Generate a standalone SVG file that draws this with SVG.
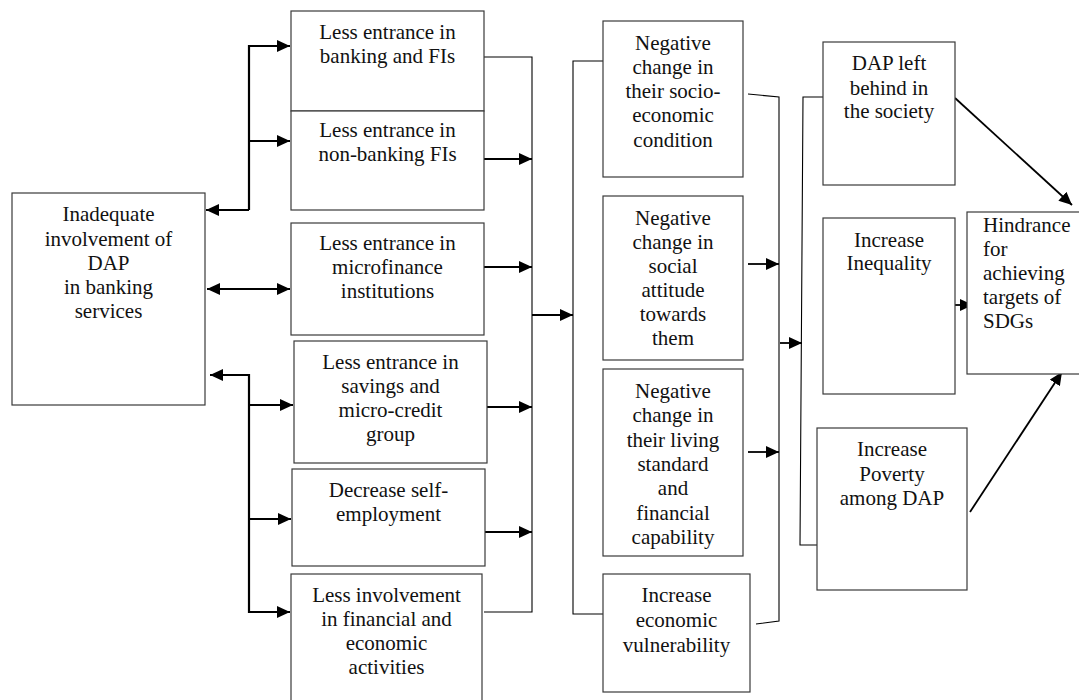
<svg xmlns="http://www.w3.org/2000/svg" width="1079" height="700" viewBox="0 0 1079 700">
<style>
.box{fill:#fff;stroke:#3a3a3a;stroke-width:1.2}
.t{font-family:'Liberation Serif','DejaVu Serif',serif;font-size:21px;fill:#111;text-anchor:middle}
.tl{text-anchor:start}
.thick{fill:none;stroke:#000;stroke-width:2.2}
.mid{fill:none;stroke:#000;stroke-width:1.8}
.thin{fill:none;stroke:#000;stroke-width:1.1}
</style>
<defs>
<marker id="ah" markerUnits="userSpaceOnUse" markerWidth="14" markerHeight="12" refX="13" refY="6" orient="auto">
<path d="M0,0 L13,6 L0,12 z" fill="#000"/>
</marker>
<marker id="ahs" markerUnits="userSpaceOnUse" markerWidth="14" markerHeight="12" refX="0" refY="6" orient="auto">
<path d="M13,0 L0,6 L13,12 z" fill="#000"/>
</marker>
</defs>
<rect width="1079" height="700" fill="#fff"/>

<g id="connectors">
<polyline class="thick" points="249,210 249,46 290,46" marker-end="url(#ah)"/>
<line class="thick" x1="249" y1="210" x2="206" y2="210" marker-end="url(#ah)"/>
<line class="thick" x1="249" y1="141" x2="290" y2="141" marker-end="url(#ah)"/>
<line class="thick" x1="207" y1="289" x2="290" y2="289" marker-start="url(#ahs)" marker-end="url(#ah)"/>
<polyline class="thick" points="210,375 249,375 249,612 290,612" marker-start="url(#ahs)" marker-end="url(#ah)"/>
<line class="thick" x1="249" y1="405" x2="293" y2="405" marker-end="url(#ah)"/>
<line class="thick" x1="249" y1="519" x2="291" y2="519" marker-end="url(#ah)"/>
<polyline class="thin" points="484,57 532,57 532,612 484,612"/>
<line class="mid" x1="483" y1="159" x2="532" y2="159" marker-end="url(#ah)"/>
<line class="mid" x1="483" y1="267" x2="532" y2="267" marker-end="url(#ah)"/>
<line class="mid" x1="487" y1="407" x2="532" y2="407" marker-end="url(#ah)"/>
<line class="mid" x1="485" y1="532" x2="532" y2="532" marker-end="url(#ah)"/>
<line class="mid" x1="532" y1="315" x2="573" y2="315" marker-end="url(#ah)"/>
<polyline class="thin" points="603,61 573,61 573,614 603,614"/>
<polyline class="thin" points="748,94 779,97 779,621 756,624"/>
<line class="mid" x1="748" y1="264" x2="779" y2="264" marker-end="url(#ah)"/>
<line class="mid" x1="748" y1="452" x2="779" y2="452" marker-end="url(#ah)"/>
<line class="mid" x1="780" y1="343" x2="802" y2="343" marker-end="url(#ah)"/>
<polyline class="thin" points="828,97 803,97 800,545 817,545"/>
<line class="mid" x1="955" y1="98" x2="1072" y2="205" marker-end="url(#ah)"/>
<line class="mid" x1="955" y1="305" x2="973" y2="305" marker-end="url(#ah)"/>
<line class="mid" x1="970" y1="512" x2="1062" y2="372" marker-end="url(#ah)"/>
</g>

<g id="n-inadequate">
<rect class="box" x="12" y="193" width="193" height="212"/>
<text class="t" x="108.5" y="221">Inadequate</text>
<text class="t" x="108.5" y="246">involvement of</text>
<text class="t" x="108.5" y="270">DAP</text>
<text class="t" x="108.5" y="294">in banking</text>
<text class="t" x="108.5" y="318">services</text>
</g>

<g id="n-banking">
<rect class="box" x="291" y="11" width="193" height="100"/>
<text class="t" x="387.5" y="39">Less entrance in</text>
<text class="t" x="387.5" y="63">banking and FIs</text>
</g>
<g id="n-nonbanking">
<rect class="box" x="291" y="111" width="193" height="99"/>
<text class="t" x="387.5" y="137">Less entrance in</text>
<text class="t" x="387.5" y="161">non-banking FIs</text>
</g>
<g id="n-microfinance">
<rect class="box" x="291" y="223" width="193" height="112"/>
<text class="t" x="387.5" y="250">Less entrance in</text>
<text class="t" x="387.5" y="274">microfinance</text>
<text class="t" x="387.5" y="298">institutions</text>
</g>
<g id="n-savings">
<rect class="box" x="294" y="341" width="193" height="122"/>
<text class="t" x="390.5" y="369">Less entrance in</text>
<text class="t" x="390.5" y="393">savings and</text>
<text class="t" x="390.5" y="417">micro-credit</text>
<text class="t" x="390.5" y="441">group</text>
</g>
<g id="n-selfemp">
<rect class="box" x="292" y="469" width="193" height="97"/>
<text class="t" x="388.5" y="497">Decrease self-</text>
<text class="t" x="388.5" y="521">employment</text>
</g>
<g id="n-involvement">
<rect class="box" x="291" y="574" width="191" height="140"/>
<text class="t" x="386.5" y="602">Less involvement</text>
<text class="t" x="386.5" y="626">in financial and</text>
<text class="t" x="386.5" y="650">economic</text>
<text class="t" x="386.5" y="674">activities</text>
</g>

<g id="n-socio">
<rect class="box" x="603" y="21" width="140" height="156"/>
<text class="t" x="673" y="50">Negative</text>
<text class="t" x="673" y="74">change in</text>
<text class="t" x="673" y="98">their socio-</text>
<text class="t" x="673" y="122">economic</text>
<text class="t" x="673" y="147">condition</text>
</g>
<g id="n-social">
<rect class="box" x="603" y="196" width="140" height="164"/>
<text class="t" x="673" y="225">Negative</text>
<text class="t" x="673" y="249">change in</text>
<text class="t" x="673" y="273">social</text>
<text class="t" x="673" y="297">attitude</text>
<text class="t" x="673" y="321">towards</text>
<text class="t" x="673" y="345">them</text>
</g>
<g id="n-living">
<rect class="box" x="603" y="369" width="140" height="187"/>
<text class="t" x="673" y="398">Negative</text>
<text class="t" x="673" y="422">change in</text>
<text class="t" x="673" y="447">their living</text>
<text class="t" x="673" y="471">standard</text>
<text class="t" x="673" y="495">and</text>
<text class="t" x="673" y="520">financial</text>
<text class="t" x="673" y="544">capability</text>
</g>
<g id="n-vulnerability">
<rect class="box" x="603" y="574" width="147" height="118"/>
<text class="t" x="676.5" y="602">Increase</text>
<text class="t" x="676.5" y="627">economic</text>
<text class="t" x="676.5" y="652">vulnerability</text>
</g>

<g id="n-leftbehind">
<rect class="box" x="823" y="42" width="132" height="143"/>
<text class="t" x="889" y="70">DAP left</text>
<text class="t" x="889" y="95">behind in</text>
<text class="t" x="889" y="118">the society</text>
</g>
<g id="n-inequality">
<rect class="box" x="823" y="218" width="132" height="176"/>
<text class="t" x="889" y="247">Increase</text>
<text class="t" x="889" y="270">Inequality</text>
</g>
<g id="n-poverty">
<rect class="box" x="817" y="428" width="150" height="162"/>
<text class="t" x="892" y="456">Increase</text>
<text class="t" x="892" y="481">Poverty</text>
<text class="t" x="892" y="505">among DAP</text>
</g>
<g id="n-hindrance">
<rect class="box" x="967" y="212" width="120" height="162"/>
<text class="t tl" x="983" y="232">Hindrance</text>
<text class="t tl" x="983" y="256">for</text>
<text class="t tl" x="983" y="280">achieving</text>
<text class="t tl" x="983" y="304">targets of</text>
<text class="t tl" x="983" y="328">SDGs</text>
</g>
</svg>
